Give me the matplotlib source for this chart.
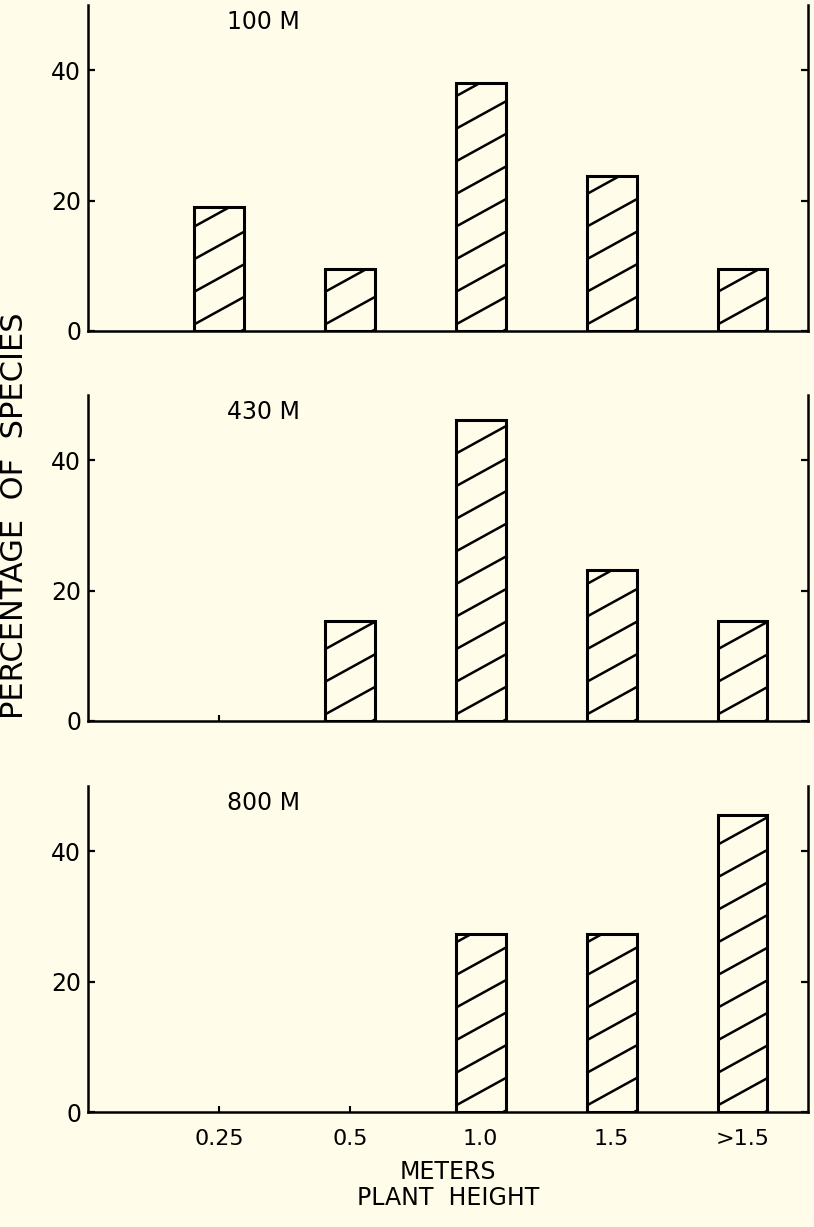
import matplotlib
matplotlib.use("Agg")
import matplotlib.pyplot as plt
import numpy as np

# ---- data ----
categories = ["0.25", "0.5", "1.0", "1.5", ">1.5"]
panel_labels = ["100 M", "430 M", "800 M"]
pct_100 = [19.0, 9.5, 38.1, 23.8, 9.5]
pct_430 = [0.0, 15.4, 46.2, 23.1, 15.4]
pct_800 = [0.0, 0.0, 27.3, 27.3, 45.5]
yticks = [0, 20, 40]

BG = "#fffdea"
plt.rcParams['font.family'] = ['DejaVu Sans']

fig = plt.figure(figsize=(8.14, 12.27), dpi=100, facecolor=BG)

left = 88 / 814
width = 720 / 814
tops = [5, 395, 786]
h_px = 326

series = [pct_100, pct_430, pct_800]
axes = []
x = np.arange(len(categories))
bar_w = 0.38
hatch_spacing = 5.0
hatch_rise = 4.2

for i, (vals, lab, top) in enumerate(zip(series, panel_labels, tops)):
    bottom = 1 - (top + h_px) / 1227
    ax = fig.add_axes([left, bottom, width, h_px / 1227])
    ax.set_facecolor(BG)
    ax.set_xlim(-1.0, 4.5)
    ax.set_ylim(0, 50)
    bars = ax.bar(x, vals, width=bar_w, facecolor=BG, edgecolor='black',
                  linewidth=2.2, zorder=2)
    for b in bars:
        bh = b.get_height()
        if bh <= 0:
            b.set_linewidth(0)
            continue
        x0 = b.get_x()
        bw = b.get_width()
        n = int(np.ceil(bh / hatch_spacing)) + 2
        for k in range(-2, n):
            yl = k * hatch_spacing + 1.0
            ln, = ax.plot([x0, x0 + bw], [yl, yl + hatch_rise], color='black',
                          lw=1.8, zorder=3, solid_capstyle='butt')
            ln.set_clip_path(b)
    ax.spines['top'].set_visible(False)
    for s in ['left', 'right', 'bottom']:
        ax.spines[s].set_linewidth(1.8)
    ax.set_yticks(yticks)
    ax.set_yticklabels([str(t) for t in yticks], fontsize=17)
    ax.tick_params(axis='y', direction='in', length=5, width=1.6, pad=5,
                   right=True, labelright=False)
    ax.set_xticks(x)
    ax.tick_params(axis='x', direction='in', length=4, width=1.5, pad=12)
    if i < 2:
        ax.set_xticklabels([])
    else:
        ax.set_xticklabels(categories, fontsize=16)
    ax.text(0.193, 0.948, lab, transform=ax.transAxes, fontsize=17,
            ha='left', va='center')
    axes.append(ax)

axes[2].set_xlabel("METERS\nPLANT  HEIGHT", fontsize=17, linespacing=1.1,
                   labelpad=8)
fig.text(15 / 814, 1 - 516 / 1227, "PERCENTAGE  OF  SPECIES", rotation=90,
         fontsize=22, ha='center', va='center')

fig.savefig("out.png", dpi=100, facecolor=BG)
